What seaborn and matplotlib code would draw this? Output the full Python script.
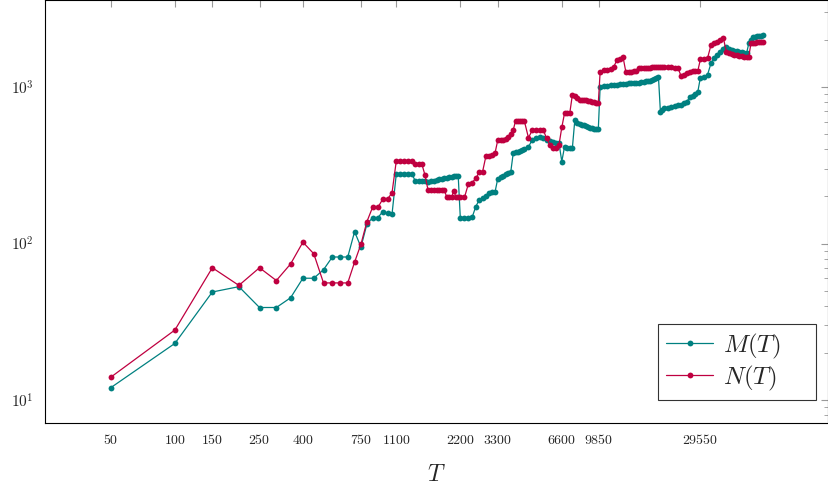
import numpy as np
import pandas as pd
import matplotlib
matplotlib.use("Agg")
import matplotlib.pyplot as plt
import seaborn as sns
from matplotlib.ticker import FixedLocator, FixedFormatter, LogLocator, NullFormatter

# T values (x axis, log scale)
T = [50, 100, 150, 200, 250, 300, 350, 400, 450, 500,
     550, 600, 650, 700, 750, 800, 850, 900, 950, 1000,
     1050, 1100, 1150, 1200, 1250, 1300, 1350, 1400, 1450, 1500,
     1550, 1600, 1650, 1700, 1750, 1800, 1850, 1900, 1950, 2000,
     2050, 2100, 2150, 2200, 2300, 2400, 2500, 2600, 2700, 2800,
     2900, 3000, 3100, 3200, 3300, 3400, 3500, 3600, 3700, 3800,
     3900, 4000, 4100, 4200, 4300, 4400, 4600, 4800, 5000, 5200,
     5400, 5600, 5800, 6000, 6200, 6400, 6600, 6800, 7000, 7200,
     7400, 7600, 7800, 8000, 8200, 8400, 8600, 8800, 9000, 9200,
     9400, 9600, 9800, 10000, 10400, 10800, 11200, 11600, 12000, 12400,
     12800, 13200, 13600, 14000, 14400, 14800, 15200, 15600, 16000, 16400,
     16800, 17200, 17600, 18000, 18400, 18800, 19200, 19600, 20000, 20800,
     21600, 22400, 23200, 24000, 24800, 25600, 26400, 27200, 28000, 28800,
     29600, 30800, 32000, 33200, 34400, 35600, 36800, 38000, 39200, 40400,
     41600, 42800, 44000, 45200, 46400, 47600, 48800, 50000, 51200, 52400,
     53600, 54800, 56000, 57200, 58400]

# M(T)
M = [12, 23, 49, 53, 39, 39, 45, 60, 60, 68,
     82, 82, 82, 119, 95, 133, 146, 146, 160, 156,
     154, 280, 280, 280, 278, 278, 252, 252, 252, 252,
     248, 250, 252, 255, 257, 260, 262, 264, 266, 268,
     270, 270, 270, 145, 145, 145, 147, 172, 190, 195,
     200, 209, 212, 212, 260, 265, 270, 278, 283, 288,
     377, 385, 385, 390, 395, 400, 415, 460, 475, 480,
     470, 460, 450, 445, 440, 440, 334, 415, 410, 406,
     406, 615, 590, 580, 575, 570, 560, 555, 550, 545,
     540, 538, 537, 1005, 1010, 1020, 1025, 1030, 1035, 1040,
     1045, 1050, 1055, 1060, 1065, 1055, 1060, 1070, 1080, 1090,
     1095, 1100, 1110, 1120, 1135, 1163, 695, 710, 731, 735,
     745, 755, 765, 770, 790, 805, 867, 880, 905, 934,
     1150, 1163, 1200, 1416, 1540, 1600, 1680, 1760, 1808, 1750,
     1720, 1700, 1690, 1680, 1670, 1660, 1640, 1900, 2000, 2090,
     2100, 2110, 2120, 2130, 2140]

# N(T)
N = [14, 28, 70, 54, 70, 58, 74, 102, 86, 56,
     56, 56, 56, 76, 99, 138, 170, 170, 192, 192,
     211, 338, 338, 338, 338, 338, 322, 322, 322, 274,
     220, 220, 220, 220, 220, 220, 220, 197, 197, 197,
     218, 197, 197, 197, 197, 240, 245, 261, 285, 288,
     360, 365, 370, 376, 458, 460, 460, 465, 480, 500,
     530, 607, 607, 607, 607, 607, 474, 531, 531, 531,
     531, 470, 427, 410, 405, 425, 552, 680, 680, 685,
     889, 870, 847, 830, 826, 826, 820, 815, 810, 805,
     800, 790, 787, 1253, 1285, 1290, 1310, 1350, 1490, 1500,
     1563, 1253, 1253, 1255, 1260, 1270, 1320, 1320, 1325, 1330,
     1330, 1330, 1335, 1335, 1335, 1335, 1335, 1335, 1337, 1337,
     1335, 1330, 1330, 1178, 1200, 1230, 1253, 1260, 1260, 1270,
     1500, 1510, 1530, 1853, 1900, 1950, 2000, 2045, 1681, 1650,
     1620, 1600, 1590, 1580, 1570, 1565, 1563, 1563, 1900, 1910,
     1920, 1930, 1940, 1946, 1950]

xtick_vals = [50, 100, 150, 250, 400, 750, 1100, 2200, 3300, 6600, 9850, 29550]
ytick_vals = [10, 100, 1000]

teal = "#008080"
purple = "#BF0040"

sns.set_style("white")
plt.rcParams["mathtext.fontset"] = "cm"
plt.rcParams["font.family"] = ["DejaVu Serif"]

fig = plt.figure(figsize=(8.29, 4.98), dpi=100)
ax = fig.add_axes([45 / 829, 75 / 498, 783 / 829, 423 / 498])

df = pd.DataFrame({"T": T, "M": M, "N": N})
pad = "\u2003\u2003"  # extra room on the right of the legend text
sns.lineplot(data=df, x="T", y="M", ax=ax, color=teal, marker="o", markersize=4.2,
             markeredgewidth=0, linewidth=0.9, label="$M(T)$" + pad)
sns.lineplot(data=df, x="T", y="N", ax=ax, color=purple, marker="o", markersize=4.2,
             markeredgewidth=0, linewidth=0.9, label="$N(T)$" + pad)

ax.set_xscale("log")
ax.set_yscale("log")
ax.set_xlim(24.5, 117900)
ax.set_ylim(7.13, 3597)

ax.xaxis.set_major_locator(FixedLocator(xtick_vals))
ax.xaxis.set_major_formatter(FixedFormatter([f"${v}$" for v in xtick_vals]))
ax.xaxis.set_minor_locator(FixedLocator([]))
ax.yaxis.set_major_locator(FixedLocator(ytick_vals))
ax.yaxis.set_major_formatter(FixedFormatter(["$10^{1}$", "$10^{2}$", "$10^{3}$"]))
ax.yaxis.set_minor_locator(LogLocator(base=10, subs=np.arange(2, 10)))
ax.yaxis.set_minor_formatter(NullFormatter())

ax.tick_params(which="both", direction="in", top=True, right=True, color="#999999")
ax.tick_params(which="major", length=5, width=0.8, labelsize=11)
ax.tick_params(which="minor", length=3, width=0.6)
ax.tick_params(axis="x", labelsize=10, pad=7)
ax.tick_params(axis="y", pad=8)

for sp in ax.spines.values():
    sp.set_color("black")
    sp.set_linewidth(0.8)

ax.set_xlabel("$T$", fontsize=17, labelpad=12)
ax.set_ylabel("")

leg = ax.legend(loc="lower right", bbox_to_anchor=(0.985, 0.054), borderaxespad=0,
                fontsize=18, frameon=True, fancybox=False, edgecolor="black",
                handlelength=1.9, handletextpad=0.4, borderpad=0.3,
                labelspacing=0.12)
leg.get_frame().set_linewidth(0.8)

fig.savefig("out.png", dpi=100)
